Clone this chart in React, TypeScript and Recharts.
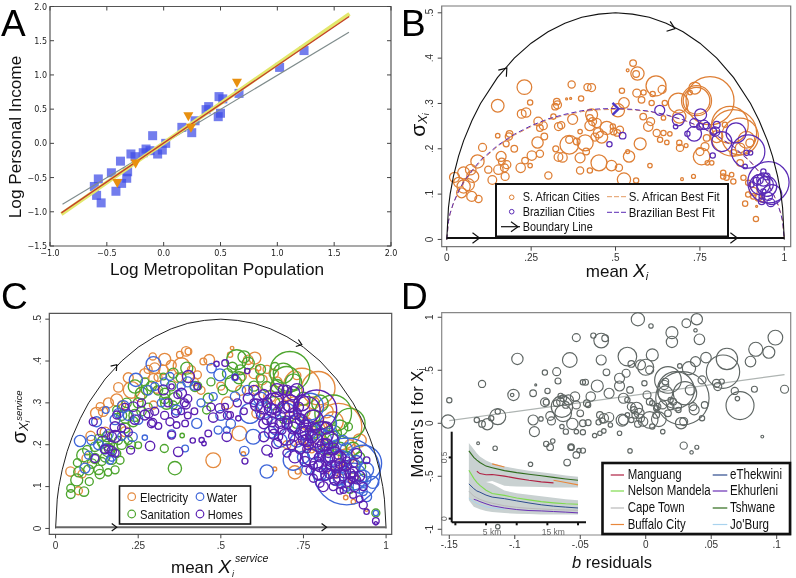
import React from 'react';
import { ScatterChart, ComposedChart, Scatter, Line, Area, XAxis, YAxis, ZAxis, ReferenceArea } from 'recharts';

type Pt = [number, number, number];

// Panel A: log income vs log population
const usCities: Pt[] = [
  [-0.61, -0.63, 0], [-0.575, -0.52, 0], [-0.59, -0.76, 0], [-0.55, -0.87, 0], [-0.46, -0.43, 0], [-0.42, -0.7, 0],
  [-0.37, -0.585, 0], [-0.38, -0.26, 0], [-0.325, -0.51, 0], [-0.317, -0.415, 0], [-0.288, -0.155, 0], [-0.252, -0.195, 0],
  [-0.18, -0.137, 0], [-0.155, -0.083, 0], [-0.12, -0.107, 0], [-0.097, 0.112, 0], [-0.053, -0.156, 0], [-0.012, -0.098, 0],
  [0.018, 0, 0], [0.16, 0.234, 0], [0.247, 0.156, 0], [0.276, 0.33, 0], [0.373, 0.493, 0], [0.396, 0.537, 0],
  [0.487, 0.683, 0], [0.52, 0.65, 0], [0.48, 0.39, 0], [0.5, 0.44, 0], [0.663, 0.73, 0], [1.02, 1.11, 0], [1.235, 1.356, 0],
];
const saMetros: Pt[] = [[-0.408, -0.585, 0], [-0.247, -0.3, 0], [0.217, 0.39, 0], [0.24, 0.22, 0], [0.645, 0.878, 0]];
const usFit: Pt[] = [[-0.89, -0.89, 0], [1.63, 1.624, 0]];
const yellowFit: Pt[] = [[-0.9, -1.034, 0], [1.635, 1.893, 0]];
const redFit: Pt[] = [[-0.9, -1.015, 0], [1.632, 1.854, 0]];
const aXTicks = [-1, -0.5, 0, 0.5, 1, 1.5, 2];
const aYTicks = [-1.5, -1, -0.5, 0, 0.5, 1, 1.5, 2];

// Panel B
const saCities: Pt[] = [
  [0.023, 0.137, 25], [0.035, 0.126, 25], [0.05, 0.147, 36], [0.05, 0.117, 44], [0.044, 0.103, 25], [0.064, 0.121, 36],
  [0.071, 0.154, 28], [0.077, 0.139, 36], [0.074, 0.095, 25], [0.094, 0.089, 13], [0.091, 0.172, 44], [0.106, 0.203, 16],
  [0.123, 0.154, 13], [0.135, 0.131, 19], [0.151, 0.295, 40], [0.151, 0.229, 5], [0.161, 0.183, 25], [0.163, 0.172, 11],
  [0.153, 0.154, 22], [0.171, 0.158, 16], [0.173, 0.139, 16], [0.178, 0.165, 16], [0.176, 0.211, 9], [0.186, 0.233, 11],
  [0.184, 0.227, 13], [0.2, 0.2, 11], [0.219, 0.158, 22], [0.232, 0.174, 11], [0.23, 0.336, 54], [0.222, 0.277, 19],
  [0.235, 0.28, 22], [0.247, 0.302, 7], [0.247, 0.163, 5], [0.252, 0.185, 22], [0.276, 0.189, 13], [0.269, 0.214, 32],
  [0.271, 0.26, 19], [0.286, 0.251, 16], [0.276, 0.246, 11], [0.289, 0.227, 11], [0.301, 0.141, 13], [0.321, 0.293, 11],
  [0.326, 0.304, 11], [0.328, 0.297, 16], [0.316, 0.271, 7], [0.331, 0.249, 16], [0.339, 0.252, 13], [0.323, 0.2, 9],
  [0.331, 0.182, 19], [0.343, 0.181, 22], [0.355, 0.31, 1], [0.367, 0.311, 1], [0.37, 0.342, 13], [0.373, 0.265, 25],
  [0.363, 0.22, 13], [0.363, 0.209, 87], [0.398, 0.311, 7], [0.395, 0.238, 5], [0.385, 0.216, 11], [0.41, 0.213, 64],
  [0.395, 0.18, 25], [0.395, 0.152, 13], [0.413, 0.194, 11], [0.417, 0.336, 13], [0.429, 0.335, 16], [0.424, 0.152, 7],
  [0.424, 0.268, 11], [0.429, 0.275, 36], [0.424, 0.251, 25], [0.432, 0.26, 16], [0.444, 0.257, 22], [0.449, 0.235, 25],
  [0.459, 0.226, 36], [0.439, 0.226, 16], [0.474, 0.246, 44], [0.492, 0.249, 7], [0.494, 0.238, 11], [0.505, 0.235, 11],
  [0.513, 0.242, 13], [0.451, 0.169, 64], [0.488, 0.163, 28], [0.51, 0.158, 13], [0.525, 0.132, 44], [0.561, 0.13, 7],
  [0.54, 0.183, 32], [0.536, 0.194, 4], [0.507, 0.285, 44], [0.525, 0.301, 28], [0.519, 0.328, 7], [0.536, 0.373, 2],
  [0.552, 0.389, 11], [0.561, 0.365, 11], [0.565, 0.366, 44], [0.563, 0.323, 16], [0.583, 0.324, 7], [0.577, 0.308, 11],
  [0.62, 0.339, 100], [0.61, 0.321, 7], [0.638, 0.331, 16], [0.646, 0.301, 7], [0.582, 0.271, 11], [0.607, 0.301, 7],
  [0.597, 0.249, 22], [0.604, 0.26, 16], [0.573, 0.211, 36], [0.602, 0.163, 5], [0.622, 0.235, 13], [0.642, 0.235, 7],
  [0.632, 0.22, 7], [0.652, 0.214, 5], [0.661, 0.233, 5], [0.697, 0.133, 2], [0.731, 0.139, 4], [0.689, 0.213, 7],
  [0.691, 0.202, 13], [0.709, 0.207, 4], [0.642, 0.268, 5], [0.686, 0.301, 100], [0.689, 0.271, 44], [0.735, 0.334, 36],
  [0.721, 0.324, 5], [0.74, 0.306, 178], [0.78, 0.306, 576], [0.74, 0.306, 225], [0.839, 0.253, 336], [0.849, 0.235, 544],
  [0.869, 0.227, 336], [0.755, 0.183, 69], [0.75, 0.194, 16], [0.765, 0.205, 16], [0.772, 0.169, 5], [0.785, 0.169, 5],
  [0.77, 0.224, 11], [0.8, 0.227, 36], [0.824, 0.253, 7], [0.869, 0.202, 22], [0.849, 0.191, 11], [0.898, 0.213, 16],
  [0.888, 0.22, 69], [0.869, 0.169, 11], [0.819, 0.147, 7], [0.819, 0.139, 7], [0.829, 0.136, 7], [0.844, 0.143, 5],
  [0.849, 0.128, 7], [0.879, 0.136, 7], [0.884, 0.079, 7], [0.893, 0.099, 7], [0.908, 0.095, 7], [0.893, 0.125, 7],
  [0.918, 0.073, 1], [0.916, 0.045, 7], [0.933, 0.088, 7], [0.923, 0.092, 11], [0.908, 0.106, 16],
];
const brCities: Pt[] = [
  [0.482, 0.21, 7], [0.521, 0.229, 11], [0.631, 0.285, 25], [0.678, 0.249, 5], [0.686, 0.264, 36], [0.713, 0.233, 7],
  [0.733, 0.233, 54], [0.733, 0.257, 19], [0.752, 0.275, 36], [0.75, 0.249, 11], [0.762, 0.253, 22], [0.77, 0.251, 11],
  [0.79, 0.238, 11], [0.8, 0.253, 11], [0.795, 0.238, 22], [0.788, 0.185, 7], [0.815, 0.216, 100], [0.857, 0.235, 100],
  [0.893, 0.194, 278], [0.888, 0.191, 7], [0.9, 0.191, 5], [0.884, 0.161, 5], [0.953, 0.126, 427], [0.938, 0.132, 44],
  [0.923, 0.132, 25], [0.918, 0.128, 16], [0.938, 0.15, 7], [0.948, 0.117, 100], [0.943, 0.121, 69], [0.938, 0.106, 7],
  [0.953, 0.095, 16], [0.933, 0.095, 7], [0.933, 0.084, 11], [0.96, 0.081, 16], [0.903, 0.121, 7], [0.963, 0.099, 100],
  [0.928, 0.121, 100], [0.948, 0.139, 11],
];
const boundaryX = [0, 0.005, 0.01, 0.02, 0.035, 0.05, 0.075, 0.1, 0.15, 0.2, 0.25, 0.3, 0.35, 0.4, 0.45, 0.5, 0.55, 0.6, 0.65, 0.7, 0.75, 0.8, 0.85, 0.9, 0.925, 0.95, 0.965, 0.98, 0.99, 0.995, 1];
const boundaryY = [0, 0.07, 0.1, 0.14, 0.184, 0.218, 0.263, 0.3, 0.357, 0.4, 0.433, 0.458, 0.477, 0.49, 0.497, 0.5, 0.497, 0.49, 0.477, 0.458, 0.433, 0.4, 0.357, 0.3, 0.263, 0.218, 0.184, 0.14, 0.1, 0.07, 0];
const saFitY = [0, 0.04, 0.057, 0.08, 0.105, 0.125, 0.15, 0.172, 0.205, 0.23, 0.249, 0.264, 0.274, 0.282, 0.286, 0.287, 0.286, 0.282, 0.274, 0.264, 0.249, 0.23, 0.205, 0.172, 0.15, 0.125, 0.105, 0.08, 0.057, 0.04, 0];
const brFitY = [0, 0.04, 0.058, 0.081, 0.107, 0.127, 0.152, 0.175, 0.207, 0.232, 0.251, 0.266, 0.276, 0.284, 0.288, 0.289, 0.287, 0.283, 0.275, 0.264, 0.249, 0.229, 0.204, 0.171, 0.149, 0.124, 0.104, 0.079, 0.056, 0.04, 0];
const floorLine: Pt[] = [[0, 0.003, 0], [1, 0.003, 0]];
const bArrows: Pt[] = [[0.178, 0.378, -50], [0.676, 0.465, 20], [0.097, 0.003, 0.01], [0.861, 0.003, 0.01]];
const bMarker: Pt[] = [[0.5, 0.288, 0]];
const unitTicks = [0, 0.25, 0.5, 0.75, 1];
const unitLabels = ['0', '.25', '.5', '.75', '1'];
const sigmaTicks = [0, 0.1, 0.2, 0.3, 0.4, 0.5];
const sigmaLabels = ['0', '.1', '.2', '.3', '.4', '.5'];

// Panel C
const electricity: Pt[] = [
  [0.045, 0.136, 22], [0.069, 0.09, 16], [0.094, 0.167, 22], [0.106, 0.221, 22], [0.124, 0.275, 36], [0.144, 0.279, 22],
  [0.19, 0.337, 22], [0.185, 0.307, 36], [0.23, 0.331, 69], [0.21, 0.231, 25], [0.255, 0.315, 25], [0.294, 0.411, 13],
  [0.3, 0.383, 28], [0.296, 0.359, 22], [0.31, 0.361, 16], [0.326, 0.379, 22], [0.33, 0.404, 36], [0.306, 0.331, 11],
  [0.296, 0.295, 16], [0.376, 0.415, 11], [0.381, 0.388, 69], [0.395, 0.423, 22], [0.402, 0.423, 11], [0.411, 0.379, 16],
  [0.429, 0.367, 16], [0.447, 0.399, 11], [0.465, 0.403, 28], [0.477, 0.163, 54], [0.528, 0.415, 7], [0.534, 0.431, 3],
  [0.556, 0.227, 54], [0.568, 0.178, 5], [0.583, 0.403, 22], [0.603, 0.407, 36], [0.613, 0.383, 7], [0.608, 0.331, 22],
  [0.663, 0.142, 4], [0.724, 0.134, 44], [0.733, 0.136, 7], [0.745, 0.339, 336], [0.795, 0.335, 278], [0.856, 0.243, 544],
  [0.84, 0.255, 100], [0.775, 0.187, 7], [0.785, 0.211, 100], [0.878, 0.074, 5], [0.901, 0.064, 5], [0.941, 0.044, 2],
  [0.608, 0.275, 22], [0.648, 0.315, 36], [0.678, 0.299, 22], [0.699, 0.315, 16], [0.709, 0.267, 22], [0.739, 0.195, 28],
  [0.84, 0.131, 22], [0.881, 0.171, 69], [0.135, 0.291, 16], [0.2, 0.295, 16], [0.15, 0.23, 25], [0.565, 0.363, 16],
  [0.625, 0.355, 25], [0.66, 0.37, 22], [0.73, 0.365, 16], [0.76, 0.25, 36], [0.82, 0.28, 44], [0.89, 0.2, 25],
  [0.08, 0.13, 16], [0.16, 0.3, 25], [0.22, 0.36, 25], [0.27, 0.37, 25], [0.28, 0.38, 16], [0.35, 0.39, 25],
  [0.37, 0.36, 22], [0.42, 0.35, 16], [0.44, 0.33, 16], [0.5, 0.34, 16], [0.52, 0.3, 36], [0.56, 0.33, 25],
  [0.6, 0.37, 25], [0.64, 0.38, 16], [0.67, 0.35, 25], [0.72, 0.3, 36], [0.75, 0.28, 44], [0.78, 0.3, 36],
  [0.8, 0.24, 54], [0.83, 0.19, 36], [0.87, 0.14, 25], [0.9, 0.12, 25], [0.92, 0.21, 44], [0.77, 0.21, 25], [0.7, 0.2, 16],
];
const sanitation: Pt[] = [
  [0.046, 0.082, 19], [0.046, 0.096, 16], [0.064, 0.116, 36], [0.086, 0.088, 22], [0.066, 0.157, 16], [0.084, 0.175, 44],
  [0.102, 0.112, 16], [0.134, 0.13, 22], [0.159, 0.134, 13], [0.096, 0.187, 22], [0.119, 0.195, 22], [0.119, 0.167, 25],
  [0.144, 0.207, 36], [0.159, 0.187, 44], [0.185, 0.179, 16], [0.195, 0.163, 16], [0.175, 0.195, 16], [0.155, 0.219, 25],
  [0.212, 0.267, 44], [0.185, 0.283, 16], [0.235, 0.255, 25], [0.24, 0.339, 44], [0.26, 0.323, 36], [0.25, 0.199, 11],
  [0.275, 0.331, 25], [0.326, 0.363, 11], [0.336, 0.299, 36], [0.331, 0.323, 25], [0.356, 0.295, 16], [0.361, 0.144, 44],
  [0.383, 0.222, 5], [0.329, 0.191, 16], [0.356, 0.371, 25], [0.397, 0.383, 36], [0.422, 0.339, 25], [0.462, 0.311, 25],
  [0.457, 0.283, 16], [0.506, 0.331, 22], [0.548, 0.403, 100], [0.559, 0.379, 25], [0.583, 0.395, 36], [0.538, 0.347, 69],
  [0.689, 0.371, 100], [0.709, 0.375, 400], [0.699, 0.355, 178], [0.84, 0.275, 336], [0.891, 0.251, 225], [0.8, 0.299, 69],
  [0.84, 0.227, 69], [0.659, 0.299, 44], [0.78, 0.267, 44], [0.969, 0.037, 16], [0.891, 0.092, 11], [0.926, 0.148, 16],
  [0.886, 0.243, 16], [0.84, 0.211, 36], [0.73, 0.251, 25], [0.689, 0.259, 11], [0.639, 0.339, 25], [0.619, 0.359, 16],
  [0.664, 0.387, 16], [0.13, 0.215, 16], [0.17, 0.165, 25], [0.2, 0.27, 25], [0.215, 0.3, 22], [0.25, 0.3, 25],
  [0.27, 0.35, 16], [0.11, 0.155, 22], [0.14, 0.16, 16], [0.19, 0.21, 16], [0.23, 0.2, 16], [0.36, 0.31, 36],
  [0.555, 0.36, 36], [0.535, 0.385, 25], [0.6, 0.34, 25], [0.92, 0.17, 25], [0.86, 0.19, 44],
  [0.07, 0.135, 25], [0.1, 0.14, 25], [0.13, 0.14, 22], [0.15, 0.17, 22], [0.16, 0.2, 36], [0.18, 0.14, 16],
  [0.2, 0.2, 22], [0.21, 0.24, 25], [0.22, 0.21, 16], [0.24, 0.27, 36], [0.26, 0.28, 22], [0.28, 0.29, 16],
  [0.29, 0.34, 25], [0.31, 0.33, 22], [0.33, 0.31, 25], [0.35, 0.34, 22], [0.38, 0.36, 25], [0.43, 0.34, 16],
  [0.47, 0.35, 16], [0.52, 0.37, 25], [0.57, 0.41, 36], [0.62, 0.38, 25], [0.67, 0.34, 44], [0.72, 0.35, 64],
  [0.75, 0.31, 44], [0.78, 0.23, 36], [0.82, 0.19, 36], [0.86, 0.24, 64], [0.88, 0.17, 36], [0.9, 0.19, 44],
  [0.93, 0.12, 16], [0.81, 0.24, 44],
];
const water: Pt[] = [
  [0.074, 0.209, 32], [0.089, 0.144, 25], [0.109, 0.211, 22], [0.124, 0.255, 25], [0.152, 0.283, 11], [0.164, 0.163, 16],
  [0.205, 0.291, 36], [0.243, 0.355, 44], [0.233, 0.219, 22], [0.27, 0.217, 7], [0.296, 0.393, 54], [0.3, 0.339, 16],
  [0.346, 0.363, 16], [0.351, 0.226, 16], [0.366, 0.283, 25], [0.392, 0.191, 11], [0.427, 0.251, 25], [0.472, 0.383, 22],
  [0.497, 0.367, 36], [0.477, 0.315, 16], [0.492, 0.235, 16], [0.518, 0.235, 11], [0.571, 0.185, 22], [0.639, 0.136, 44],
  [0.598, 0.219, 54], [0.588, 0.275, 100], [0.543, 0.315, 22], [0.543, 0.361, 11], [0.629, 0.283, 69], [0.669, 0.243, 69],
  [0.719, 0.163, 100], [0.77, 0.291, 178], [0.881, 0.136, 1111], [0.931, 0.155, 336], [0.901, 0.124, 178], [0.861, 0.163, 100],
  [0.84, 0.171, 69], [0.8, 0.211, 136], [0.969, 0.037, 7], [0.941, 0.076, 25], [0.931, 0.088, 16], [0.92, 0.1, 44],
  [0.76, 0.235, 100], [0.825, 0.251, 69], [0.845, 0.187, 16], [0.8, 0.171, 25], [0.881, 0.1, 22], [0.15, 0.19, 25],
  [0.17, 0.17, 16], [0.19, 0.275, 22], [0.32, 0.3, 16], [0.42, 0.34, 16], [0.65, 0.23, 36], [0.7, 0.28, 64],
  [0.73, 0.21, 44], [0.78, 0.18, 36], [0.82, 0.13, 36], [0.86, 0.12, 44], [0.76, 0.14, 25], [0.91, 0.16, 36],
  [0.1, 0.175, 16], [0.13, 0.2, 25], [0.16, 0.225, 22], [0.18, 0.26, 25], [0.2, 0.22, 16], [0.22, 0.27, 25],
  [0.25, 0.26, 22], [0.28, 0.33, 22], [0.33, 0.35, 16], [0.38, 0.34, 16], [0.4, 0.35, 25], [0.44, 0.3, 16],
  [0.5, 0.27, 25], [0.53, 0.25, 22], [0.58, 0.33, 25], [0.62, 0.31, 44], [0.66, 0.28, 44], [0.68, 0.21, 44],
  [0.72, 0.25, 64], [0.75, 0.17, 36], [0.78, 0.23, 64], [0.83, 0.22, 64], [0.88, 0.19, 36], [0.9, 0.15, 54],
  [0.94, 0.14, 54], [0.93, 0.12, 64], [0.96, 0.11, 36], [0.85, 0.12, 54], [0.8, 0.13, 44], [0.87, 0.21, 25],
];
const homes: Pt[] = [
  [0.114, 0.255, 16], [0.119, 0.167, 16], [0.149, 0.189, 19], [0.17, 0.185, 22], [0.17, 0.219, 22], [0.18, 0.243, 25],
  [0.185, 0.271, 16], [0.21, 0.291, 11], [0.227, 0.187, 16], [0.235, 0.291, 22], [0.27, 0.271, 25], [0.281, 0.275, 22],
  [0.294, 0.253, 16], [0.311, 0.245, 11], [0.286, 0.197, 22], [0.326, 0.331, 25], [0.351, 0.339, 7], [0.346, 0.255, 16],
  [0.351, 0.223, 16], [0.371, 0.183, 22], [0.363, 0.275, 16], [0.381, 0.323, 25], [0.395, 0.295, 16], [0.392, 0.251, 11],
  [0.366, 0.247, 11], [0.402, 0.363, 36], [0.429, 0.339, 11], [0.415, 0.21, 7], [0.442, 0.211, 7], [0.449, 0.203, 5],
  [0.462, 0.227, 11], [0.477, 0.265, 22], [0.497, 0.287, 22], [0.513, 0.291, 11], [0.528, 0.271, 11], [0.518, 0.219, 22],
  [0.513, 0.395, 11], [0.487, 0.393, 7], [0.543, 0.361, 7], [0.573, 0.161, 9], [0.58, 0.376, 7], [0.553, 0.263, 7],
  [0.608, 0.295, 36], [0.583, 0.311, 25], [0.629, 0.291, 54], [0.651, 0.175, 3], [0.639, 0.187, 25], [0.659, 0.299, 100],
  [0.689, 0.331, 25], [0.679, 0.251, 25], [0.699, 0.219, 69], [0.669, 0.203, 25], [0.719, 0.323, 44], [0.709, 0.291, 36],
  [0.699, 0.259, 16], [0.735, 0.251, 100], [0.745, 0.227, 44], [0.724, 0.171, 36], [0.76, 0.283, 178], [0.78, 0.259, 100],
  [0.79, 0.283, 400], [0.805, 0.227, 136], [0.77, 0.171, 69], [0.79, 0.155, 44], [0.82, 0.147, 25], [0.84, 0.171, 100],
  [0.8, 0.108, 16], [0.81, 0.1, 25], [0.84, 0.1, 16], [0.861, 0.124, 44], [0.891, 0.131, 25], [0.871, 0.092, 11],
  [0.901, 0.155, 16], [0.911, 0.179, 25], [0.941, 0.163, 11], [0.931, 0.1, 16], [0.911, 0.116, 16], [0.931, 0.056, 16],
  [0.941, 0.04, 7], [0.969, 0.018, 11], [0.969, 0.012, 3], [0.83, 0.211, 69], [0.85, 0.147, 36], [0.825, 0.179, 16],
  [0.881, 0.163, 11], [0.901, 0.124, 25], [0.8, 0.195, 25], [0.815, 0.124, 16], [0.845, 0.116, 25], [0.71, 0.299, 69],
  [0.63, 0.219, 25], [0.655, 0.255, 25], [0.675, 0.219, 16], [0.725, 0.275, 36], [0.75, 0.211, 25], [0.775, 0.219, 36],
  [0.795, 0.131, 36], [0.83, 0.131, 25], [0.86, 0.155, 25], [0.875, 0.135, 36], [0.905, 0.1, 25], [0.77, 0.139, 16],
  [0.64, 0.3, 25], [0.6, 0.3, 16], [0.69, 0.29, 36], [0.745, 0.3, 64], [0.65, 0.285, 36], [0.67, 0.31, 44],
  [0.62, 0.27, 16], [0.63, 0.25, 25], [0.66, 0.225, 25], [0.685, 0.235, 16], [0.72, 0.24, 36], [0.74, 0.26, 25],
  [0.755, 0.245, 36], [0.765, 0.2, 25], [0.785, 0.24, 25], [0.81, 0.2, 36], [0.82, 0.24, 36], [0.835, 0.15, 25],
  [0.855, 0.175, 16], [0.87, 0.15, 16], [0.885, 0.11, 16], [0.82, 0.165, 36], [0.795, 0.17, 16], [0.78, 0.15, 16],
  [0.76, 0.19, 16], [0.755, 0.16, 25], [0.81, 0.14, 16], [0.85, 0.13, 16], [0.895, 0.115, 11], [0.865, 0.105, 16],
  [0.7, 0.18, 16], [0.715, 0.2, 25], [0.735, 0.29, 25], [0.67, 0.28, 16], [0.18, 0.22, 36], [0.29, 0.25, 16],
  [0.39, 0.3, 16], [0.38, 0.28, 11], [0.4, 0.27, 11], [0.14, 0.23, 22], [0.16, 0.19, 16], [0.18, 0.18, 16],
  [0.2, 0.24, 16], [0.22, 0.23, 16], [0.24, 0.26, 22], [0.26, 0.3, 16], [0.3, 0.28, 16], [0.33, 0.27, 16],
  [0.34, 0.3, 16], [0.37, 0.32, 16], [0.4, 0.31, 16], [0.42, 0.28, 11], [0.47, 0.29, 16], [0.52, 0.27, 16],
  [0.55, 0.3, 16], [0.57, 0.28, 11], [0.6, 0.33, 25], [0.63, 0.32, 25], [0.67, 0.33, 44], [0.7, 0.33, 25],
  [0.73, 0.33, 44], [0.76, 0.23, 44], [0.79, 0.21, 44], [0.82, 0.2, 36], [0.84, 0.19, 36], [0.86, 0.17, 36],
  [0.88, 0.15, 25], [0.9, 0.135, 25], [0.92, 0.125, 25], [0.83, 0.17, 25], [0.8, 0.15, 36], [0.78, 0.12, 16],
  [0.76, 0.21, 36], [0.74, 0.19, 25], [0.72, 0.22, 25], [0.7, 0.25, 25], [0.68, 0.27, 25], [0.66, 0.24, 25],
  [0.64, 0.26, 25], [0.86, 0.09, 11], [0.9, 0.08, 11], [0.92, 0.07, 11],
];
const cArrows: Pt[] = [[0.185, 0.391, -50], [0.745, 0.439, 20], [0.185, 0.003, 0.01], [0.82, 0.003, 0.01]];

// Panel D
const moranPoints: Pt[] = [
  [-0.15, 0.217, 7], [-0.151, 0.016, 44], [-0.125, 0.371, 13], [-0.129, 0.031, 7], [-0.125, -0.006, 11], [-0.121, -0.009, 32],
  [-0.118, 0.047, 7], [-0.113, 0.063, 64], [-0.113, 0.11, 7], [-0.128, -0.189, 2], [-0.115, -0.236, 5], [-0.113, -0.975, 5],
  [-0.101, 0.267, 32], [-0.102, 0.267, 3], [-0.098, 0.607, 32], [-0.086, 0.283, 11], [-0.084, 0.362, 1], [-0.077, 0.478, 7],
  [-0.068, 0.487, 16], [-0.067, 0.399, 9], [-0.086, 0.031, 25], [-0.08, 0.041, 5], [-0.085, -0.079, 25], [-0.088, -0.387, 5],
  [-0.076, -0.195, 7], [-0.071, -0.167, 5], [-0.073, -0.226, 11], [-0.077, 0.198, 19], [-0.076, 0.198, 9], [-0.075, 0.305, 7],
  [-0.073, 0.069, 19], [-0.072, 0.022, 16], [-0.064, 0.157, 114], [-0.063, 0.094, 69], [-0.065, 0.204, 16], [-0.068, 0.189, 11],
  [-0.063, 0.236, 11], [-0.065, 0.258, 7], [-0.061, 0.173, 11], [-0.059, 0.22, 25], [-0.064, -0.031, 5], [-0.056, -0.006, 32],
  [-0.058, 0.597, 54], [-0.053, 0.808, 16], [-0.061, -0.079, 7], [-0.053, -0.079, 5], [-0.048, -0.085, 7], [-0.057, -0.226, 7],
  [-0.057, -0.226, 11], [-0.06, -0.371, 11], [-0.053, -0.299, 11], [-0.051, -0.258, 5], [-0.048, -0.258, 7], [-0.048, 0.387, 7],
  [-0.046, 0.387, 9], [-0.054, 0.252, 22], [-0.053, 0.173, 16], [-0.05, 0.094, 11], [-0.048, 0, 11], [-0.044, 0.006, 9],
  [-0.045, 0.189, 11], [-0.042, 0.252, 22], [-0.044, 0.173, 7], [-0.037, 0.352, 36], [-0.034, 0.597, 25], [-0.034, 0.78, 54],
  [-0.04, 0.827, 7], [-0.031, 0.802, 11], [-0.03, 0.481, 11], [-0.028, 0.283, 25], [-0.035, 0.079, 11], [-0.032, 0.047, 22],
  [-0.028, 0.057, 22], [-0.036, 0.009, 7], [-0.033, 0.025, 7], [-0.027, -0.016, 5], [-0.039, -0.116, 5], [-0.035, -0.094, 5],
  [-0.032, -0.072, 5], [-0.02, -0.094, 5], [-0.02, 0.425, 25], [-0.02, 0.352, 25], [-0.015, 0.472, 16], [-0.014, 0.629, 87],
  [-0.011, 0.56, 11], [-0.006, 0.981, 44], [0.004, 0.918, 5], [-0.012, 0.314, 11], [-0.017, 0.236, 25], [-0.014, 0.22, 7],
  [-0.011, 0.157, 16], [-0.017, 0.031, 25], [-0.011, 0.031, 7], [-0.014, 0.079, 5], [-0.012, -0.261, 5], [-0.009, 0.126, 11],
  [-0.007, 0.142, 36], [-0.005, 0.094, 25], [-0.004, 0.047, 16], [-0.008, 0.079, 11], [-0.006, -0.006, 11], [-0.002, 0.016, 22],
  [0.001, 0.267, 16], [-0.018, 0.03, 36], [0.003, 0.031, 69], [-0.004, 0.551, 25], [0, 0.528, 64], [0.003, 0.503, 16],
  [0.005, 0.645, 36], [-0.001, 0.377, 7], [0.003, 0.204, 11], [0.005, 0.189, 7], [0.008, 0.142, 7], [0.01, 0.038, 54],
  [0.005, -0.031, 7], [0.008, 0.079, 11], [0.013, -0.079, 5], [0.02, 0.855, 36], [0.02, 0.767, 32], [0.031, 0.943, 19],
  [0.039, 0.981, 32], [0.038, 0.877, 3], [0.041, 0.792, 28], [0.026, 0.541, 5], [0.033, 0.519, 44], [0.038, 0.582, 25],
  [0.046, 0.619, 28], [0.062, 0.607, 114], [0.059, 0.487, 278], [0.043, 0.409, 16], [0.08, 0.582, 28], [0.084, 0.698, 49],
  [0.094, 0.67, 36], [0.099, 0.808, 54], [0.054, 0.377, 16], [0.055, 0.346, 16], [0.058, 0.393, 7], [0.068, 0.305, 13],
  [0.07, 0.233, 5], [0.072, 0.167, 196], [0.083, 0.321, 9], [0.106, 0.321, 16], [0.089, -0.126, 2], [0.044, -0.44, 9],
  [0.029, -0.211, 13], [0.035, -0.274, 3], [0.039, -0.226, 4], [0.027, 0, 32], [0.029, 0.016, 16], [0.043, 0.047, 7],
  [0.045, 0.173, 11], [0.036, 0.157, 16], [0.037, 0.126, 25], [0.024, 0.157, 19], [0.021, 0.204, 11], [0.017, 0.409, 178],
  [0.015, 0.393, 11], [0.014, 0.362, 22], [0.015, 0.283, 54], [0.028, 0.236, 711], [0.023, 0.314, 336], [0.03, 0.283, 136],
  [0.034, 0.314, 25], [0.013, 0.173, 16], [0.009, 0.157, 11], [0.017, 0.094, 11], [0.019, 0.157, 11], [0.019, 0.22, 7],
  [0.025, 0.126, 7],
];
const trendLine: Pt[] = [[-0.15, 0.025, 0], [0.106, 0.459, 0]];
const dXTicks = [-0.15, -0.1, -0.05, 0, 0.05, 0.1];
const dXLabels = ['-.15', '-.1', '-.05', '0', '.05', '.1'];
const dYTicks = [-1, -0.5, 0, 0.5, 1];
const dYLabels = ['-1', '-.5', '0', '.5', '1'];

// Panel D inset
const distances = [2.2, 3, 3.5, 4, 5, 6, 8, 10, 12, 14, 16, 18, 20];
const tshwane = [0.553, 0.5, 0.478, 0.458, 0.429, 0.416, 0.392, 0.376, 0.363, 0.35, 0.337, 0.324, 0.313];
const manguang = [null, null, 0.387, 0.368, 0.358, 0.361, 0.347, 0.329, 0.313, 0.3, 0.292, null, null];
const buffalo = [null, null, null, null, null, 0.447, 0.421, null, null, null, 0.313, 0.295, 0.276];
const nelson = [0.395, 0.329, 0.297, 0.271, 0.232, 0.205, 0.19, 0.168, 0.153, 0.139, 0.129, 0.121, 0.118];
const ethekwini = [0.284, 0.245, 0.226, 0.216, 0.192, 0.176, 0.163, 0.145, 0.128, 0.113, 0.102, 0.094, 0.087];
const ekhurleni = [null, 0.158, 0.15, 0.139, 0.121, 0.105, 0.087, 0.074, 0.066, 0.063, 0.058, 0.053, 0.047];
const capeTown = [0.224, 0.184, 0.17, 0.158, 0.139, 0.126, 0.105, 0.092, 0.084, 0.079, 0.074, 0.071, 0.068];
const joburg = [0.166, 0.139, 0.125, 0.113, 0.097, 0.087, 0.076, null, null, null, null, null, null];
const upperHigh = [0.618, 0.566, 0.534, 0.508, 0.474, 0.453, 0.426, 0.408, 0.392, 0.379, 0.366, 0.353, 0.342];
const upperLow = [0.3, 0.3, 0.3, 0.3, 0.3, 0.308, 0.268, 0.263, 0.26, 0.258, 0.255, 0.255, 0.255];
const lowerHigh = [0.3, 0.3, 0.3, 0.3, 0.3, 0.285, 0.229, 0.208, 0.195, 0.182, 0.171, 0.158, 0.15];
const lowerLow = [0.15, 0.097, 0.087, 0.076, 0.063, 0.055, 0.045, 0.039, 0.037, 0.034, 0.034, 0.034, 0.034];
const insetXTicks = [0, 5, 10, 15, 20];
const insetYTicks = [0, 0.5];

const insetRows = distances.map((d, i) => ({
  d,
  tshwane: tshwane[i], manguang: manguang[i], buffalo: buffalo[i], nelson: nelson[i],
  ethekwini: ethekwini[i], ekhurleni: ekhurleni[i], capeTown: capeTown[i], joburg: joburg[i],
  upper: [upperLow[i], upperHigh[i]], lower: [lowerLow[i], lowerHigh[i]],
}));

const ORANGE = '#DE7F35';
const PURPLE = '#5A2BB5';
const SANS = '"Liberation Sans", Arial, sans-serif';
const W = 796;
const H = 578;

const toRows = (pts: Pt[]) => pts.map(([x, y, z]) => ({ x, y, z }));
const toArrows = (pts: Pt[]) => pts.map(([x, y, angle]) => ({ x, y, angle }));
const curve = (ys: number[]) => boundaryX.map((x, i) => ({ x, y: ys[i] }));
const NoDot = () => <g />;

// z is the squared radius in px, the z axis hands Symbols an area
const zRange = (...sets: Pt[][]): [number, number] => [0, Math.max(...sets.flat().map(p => p[2])) * Math.PI];

const Square = ({ cx, cy }: any) => <rect x={cx - 4.5} y={cy - 4.5} width={9} height={9} fill="#3D4BE6" fillOpacity={0.72} />;
const DownTriangle = ({ cx, cy }: any) => <path d={`M${cx - 5},${cy - 4.5} L${cx + 5},${cy - 4.5} L${cx},${cy + 4.5} Z`} fill="#E8900F" />;
const chevron = (len: number) => ({ cx, cy, payload }: any) => (
  <path d={`M${-len},${-len * 0.75} L0,0 L${-len},${len * 0.75}`} fill="none" stroke="#111" strokeWidth={1.2}
    transform={`translate(${cx},${cy}) rotate(${payload.angle})`} />
);
const ArrowB = chevron(7);
const ArrowC = chevron(5);
const MidMarker = ({ cx, cy }: any) => (
  <path d={`M${cx - 3},${cy - 6} L${cx + 3},${cy} L${cx - 3},${cy + 6}`} fill="none" stroke="#4A35C8" strokeWidth={2.4} />
);

const XTickA = ({ x, payload }: any) => (
  <g>
    <line x1={x} x2={x} y1={246} y2={242} stroke="#444" />
    <line x1={x} x2={x} y1={6.5} y2={10.5} stroke="#444" />
    <text x={x} y={255.5} textAnchor="middle" fontSize={8} fontFamily="DejaVu Sans" fill="#222">
      {payload.value.toFixed(1).replace('-', '\u2212')}
    </text>
  </g>
);
const YTickA = ({ y, payload }: any) => (
  <g>
    <line x1={50} x2={54} y1={y} y2={y} stroke="#444" />
    <line x1={391} x2={387} y1={y} y2={y} stroke="#444" />
    <text x={47} y={y + 3} textAnchor="end" fontSize={8} fontFamily="DejaVu Sans" fill="#222">
      {payload.value.toFixed(1).replace('-', '\u2212')}
    </text>
  </g>
);

const bottomTick = (labelY: number, ticks: number[], labels: string[]) => ({ x, payload }: any) => (
  <text x={x} y={labelY} textAnchor="middle" fontSize={10} fontFamily={SANS} fill="#333">
    {labels[ticks.indexOf(payload.value)]}
  </text>
);
const leftTick = (labelX: number, ticks: number[], labels: string[]) => ({ y, payload }: any) => (
  <text transform={`translate(${labelX},${y}) rotate(-90)`} textAnchor="middle" fontSize={10} fontFamily={SANS} fill="#333">
    {labels[ticks.indexOf(payload.value)]}
  </text>
);

const InsetXTick = ({ x, payload }: any) =>
  payload.value === 5 || payload.value === 15 ? (
    <text x={x + 6} y={535} textAnchor="middle" fontSize={8.5} fontFamily={SANS} fill="#666">{payload.value} km</text>
  ) : <g />;
const InsetYTick = ({ y, payload }: any) => (
  <text transform={`translate(447,${y}) rotate(-90)`} textAnchor="middle" fontSize={8.5} fontFamily={SANS} fill="#666">{payload.value}</text>
);

const chartStyle: React.CSSProperties = { position: 'absolute', left: 0, top: 0 };

function box(left: number, top: number, right: number, bottom: number) {
  return { left: left - 10, top, right: W - right, bottom: H - bottom - 10 };
}

// no narrow face is installed, so the width is squeezed to the reference's
const LegendText = ({ x, y, width, children, size = 13.5 }: any) => (
  <text x={x} y={y} fontSize={size} fontFamily={SANS} fill="#111" textLength={width} lengthAdjust="spacingAndGlyphs">{children}</text>
);

export default function App() {
  return (
    <div style={{ position: 'absolute', left: 0, top: 0, width: W, height: H, background: '#fff', overflow: 'hidden', filter: 'blur(0.35px)' }}>
      {/* A */}
      <div style={chartStyle}>
        <ScatterChart width={W} height={H} margin={box(50, 6.5, 391, 246)}>
          <XAxis type="number" dataKey="x" height={10} domain={[-1, 2]} ticks={aXTicks} interval={0} axisLine={false} tickLine={false} tick={XTickA} />
          <YAxis type="number" dataKey="y" width={10} domain={[-1.5, 2]} ticks={aYTicks} interval={0} axisLine={false} tickLine={false} tick={YTickA} />
          <ReferenceArea x1={-1} x2={2} y1={-1.5} y2={2} fill="none" stroke="#555" strokeWidth={1.2} />
          <Scatter data={toRows(usCities)} shape={Square} isAnimationActive={false} />
          <Scatter data={toRows(usFit)} shape={NoDot} line={{ stroke: '#7F8C8C', strokeWidth: 1.2 }} isAnimationActive={false} />
          <Scatter data={toRows(yellowFit)} shape={NoDot} line={{ stroke: '#E3E86C', strokeWidth: 4 }} isAnimationActive={false} />
          <Scatter data={toRows(redFit)} shape={NoDot} line={{ stroke: '#C4402A', strokeWidth: 1.4 }} isAnimationActive={false} />
          <Scatter data={toRows(saMetros)} shape={DownTriangle} isAnimationActive={false} />
        </ScatterChart>
      </div>

      {/* B */}
      <div style={chartStyle}>
        <ScatterChart width={W} height={H} margin={box(441.7, 6, 790.7, 246.7)}>
          <XAxis type="number" dataKey="x" height={10} domain={[-0.015, 1.019]} ticks={unitTicks} interval={0} axisLine={false} tickSize={4} stroke="#444"
            tick={bottomTick(261, unitTicks, unitLabels)} />
          <YAxis type="number" dataKey="y" width={10} domain={[-0.016, 0.515]} ticks={sigmaTicks} interval={0} axisLine={false} tickSize={4} stroke="#444"
            tick={leftTick(433, sigmaTicks, sigmaLabels)} />
          <ZAxis type="number" dataKey="z" range={zRange(saCities, brCities)} />
          <ReferenceArea x1={-0.015} x2={1.019} y1={-0.016} y2={0.515} fill="none" stroke="#777" strokeWidth={1.2} />
          <Scatter data={toRows(saCities)} fill="none" stroke={ORANGE} strokeWidth={1.25} isAnimationActive={false} />
          <Scatter data={curve(saFitY)} shape={NoDot} line={{ stroke: '#E39A63', strokeWidth: 1, strokeDasharray: '5 3' }} isAnimationActive={false} />
          <Scatter data={curve(brFitY)} shape={NoDot} line={{ stroke: PURPLE, strokeWidth: 1, strokeDasharray: '5 3' }} isAnimationActive={false} />
          <Scatter data={toRows(brCities)} fill="none" stroke={PURPLE} strokeWidth={1.25} isAnimationActive={false} />
          <Scatter data={curve(boundaryY)} shape={NoDot} line={{ stroke: '#111', strokeWidth: 1.1 }} isAnimationActive={false} />
          <Scatter data={toRows(floorLine)} shape={NoDot} line={{ stroke: '#111', strokeWidth: 2 }} isAnimationActive={false} />
          <Scatter data={toArrows(bArrows)} shape={ArrowB} isAnimationActive={false} />
          <Scatter data={toRows(bMarker)} shape={MidMarker} isAnimationActive={false} />
        </ScatterChart>
      </div>

      {/* C */}
      <div style={chartStyle}>
        <ScatterChart width={W} height={H} margin={box(49.3, 313.3, 391.7, 534.3)}>
          <XAxis type="number" dataKey="x" height={10} domain={[-0.019, 1.017]} ticks={unitTicks} interval={0} axisLine={false} tickSize={4} stroke="#444"
            tick={bottomTick(549, unitTicks, unitLabels)} />
          <YAxis type="number" dataKey="y" width={10} domain={[-0.014, 0.514]} ticks={sigmaTicks} interval={0} axisLine={false} tickSize={4} stroke="#444"
            tick={leftTick(41, sigmaTicks, sigmaLabels)} />
          <ZAxis type="number" dataKey="z" range={zRange(electricity, sanitation, water, homes)} />
          <ReferenceArea x1={-0.019} x2={1.017} y1={-0.014} y2={0.514} fill="none" stroke="#555" strokeWidth={1.2} />
          <Scatter data={toRows(electricity)} fill="none" stroke="#E48A3F" strokeWidth={1.35} isAnimationActive={false} />
          <Scatter data={toRows(sanitation)} fill="none" stroke="#4DA52E" strokeWidth={1.35} isAnimationActive={false} />
          <Scatter data={toRows(water)} fill="none" stroke="#3E66D9" strokeWidth={1.35} isAnimationActive={false} />
          <Scatter data={toRows(homes)} fill="none" stroke="#5A1FB2" strokeWidth={1.35} isAnimationActive={false} />
          <Scatter data={curve(boundaryY)} shape={NoDot} line={{ stroke: '#222', strokeWidth: 1 }} isAnimationActive={false} />
          <Scatter data={toRows(floorLine)} shape={NoDot} line={{ stroke: '#666', strokeWidth: 2 }} isAnimationActive={false} />
          <Scatter data={toArrows(cArrows)} shape={ArrowC} isAnimationActive={false} />
        </ScatterChart>
      </div>

      {/* D */}
      <div style={chartStyle}>
        <ScatterChart width={W} height={H} margin={box(441.7, 312.7, 790.7, 535)}>
          <XAxis type="number" dataKey="x" height={10} domain={[-0.1558, 0.1107]} ticks={dXTicks} interval={0} axisLine={false} tickSize={4} stroke="#444"
            tick={bottomTick(548, dXTicks, dXLabels)} />
          <YAxis type="number" dataKey="y" width={10} domain={[-1.054, 1.043]} ticks={dYTicks} interval={0} axisLine={false} tickSize={4} stroke="#444"
            tick={leftTick(433, dYTicks, dYLabels)} />
          <ZAxis type="number" dataKey="z" range={zRange(moranPoints)} />
          <ReferenceArea x1={-0.1558} x2={0.1107} y1={-1.054} y2={1.043} fill="none" stroke="#888" strokeWidth={1.2} />
          <Scatter data={toRows(trendLine)} shape={NoDot} line={{ stroke: '#AEB4B2', strokeWidth: 1.2 }} isAnimationActive={false} />
          <Scatter data={toRows(moranPoints)} fill="none" stroke="#5F6664" strokeWidth={1.15} isAnimationActive={false} />
        </ScatterChart>
      </div>

      {/* D inset */}
      <div style={chartStyle}>
        <ComposedChart width={W} height={H} data={insetRows} margin={box(451.7, 431.7, 586, 522.3)}>
          <XAxis type="number" dataKey="d" height={10} domain={[-0.6, 21.3]} ticks={insetXTicks} interval={0} stroke="#111" strokeWidth={2} tickSize={3} tick={InsetXTick} />
          <YAxis type="number" width={10} domain={[-0.03, 0.71]} ticks={insetYTicks} interval={0} stroke="#111" strokeWidth={2} tickSize={3} tick={InsetYTick} />
          <Area dataKey="upper" stroke="none" fill="#C9D1D1" fillOpacity={1} isAnimationActive={false} />
          <Area dataKey="lower" stroke="none" fill="#C9D1D1" fillOpacity={1} isAnimationActive={false} />
          <Line dataKey="capeTown" stroke="#B9B9B9" strokeWidth={1} dot={false} isAnimationActive={false} />
          <Line dataKey="joburg" stroke="#A9D3EE" strokeWidth={1} dot={false} isAnimationActive={false} />
          <Line dataKey="ethekwini" stroke="#2E4C8E" strokeWidth={1} dot={false} isAnimationActive={false} />
          <Line dataKey="ekhurleni" stroke="#6A30B5" strokeWidth={1} dot={false} isAnimationActive={false} />
          <Line dataKey="nelson" stroke="#7FDB4E" strokeWidth={1.1} dot={false} isAnimationActive={false} />
          <Line dataKey="tshwane" stroke="#2F6B1C" strokeWidth={1.1} dot={false} isAnimationActive={false} />
          <Line dataKey="manguang" stroke="#B02244" strokeWidth={1.1} dot={false} isAnimationActive={false} />
          <Line dataKey="buffalo" stroke="#E8873B" strokeWidth={1.1} dot={false} isAnimationActive={false} />
        </ComposedChart>
      </div>

      {/* panel letters, axis titles and legends */}
      <svg width={W} height={H} style={chartStyle}>
        <g fontFamily={SANS} fontSize={37} fill="#000">
          <text x={1} y={36}>A</text>
          <text x={401} y={36}>B</text>
          <text x={1} y={309}>C</text>
          <text x={401} y={309}>D</text>
        </g>

        <text x={217} y={275} textAnchor="middle" fontSize={17.2} fontFamily={SANS} fill="#111">Log Metropolitan Population</text>
        <text transform="translate(21,137) rotate(-90)" textAnchor="middle" fontSize={17.2} fontFamily={SANS} fill="#111">Log Personal Income</text>

        <text x={617} y={277} textAnchor="middle" fontSize={17} fontFamily={SANS} fill="#111">
          mean <tspan fontStyle="italic" fontSize={19}>X</tspan><tspan fontStyle="italic" fontSize={11} dy={3}>i</tspan>
        </text>
        <text transform="translate(425,125) rotate(-90)" textAnchor="middle" fontSize={21} fontFamily={SANS} fill="#111">
          σ<tspan fontStyle="italic" fontSize={13} dy={2}>X</tspan><tspan fontStyle="italic" fontSize={9} dy={2}>i</tspan>
        </text>

        <text x={171} y={573} fontSize={17} fontFamily={SANS} fill="#111">
          mean <tspan fontStyle="italic" fontSize={19}>X</tspan>
        </text>
        <text x={232} y={573} fontSize={9} fontStyle="italic" fontFamily={SANS} fill="#111" dy={4}>i</text>
        <text x={235} y={562} fontSize={10.5} fontStyle="italic" fontFamily={SANS} fill="#111">service</text>
        <text transform="translate(26,417) rotate(-90)" textAnchor="middle" fontSize={20} fontFamily={SANS} fill="#111">
          σ<tspan fontStyle="italic" fontSize={13} dy={2}>X</tspan><tspan fontStyle="italic" fontSize={8} dy={2}>i</tspan><tspan fontStyle="italic" fontSize={9.5} dy={-8}>service</tspan>
        </text>

        <text transform="translate(423,423) rotate(-90)" textAnchor="middle" fontSize={16.5} fontFamily={SANS} fill="#111">
          Moran's I for X<tspan fontSize={10} dy={2}>i</tspan>
        </text>
        <text x={612} y={568} textAnchor="middle" fontSize={16.5} fontFamily={SANS} fill="#111">
          <tspan fontStyle="italic">b</tspan> residuals
        </text>

        {/* legend B */}
        <rect x={496} y={184} width={232} height={52.5} fill="#fff" stroke="#111" strokeWidth={2} />
        <circle cx={511.7} cy={197.3} r={2.3} fill="none" stroke={ORANGE} />
        <LegendText x={522.7} y={200.5} width={77}>S. African Cities</LegendText>
        <line x1={607} x2={626} y1={196.7} y2={196.7} stroke="#E39A63" strokeDasharray="5 2" />
        <LegendText x={628.7} y={200.5} width={91}>S. African Best Fit</LegendText>
        <circle cx={511.7} cy={211.7} r={2.3} fill="none" stroke={PURPLE} />
        <LegendText x={522.7} y={216} width={72}>Brazilian Cities</LegendText>
        <line x1={607} x2={626} y1={212.3} y2={212.3} stroke={PURPLE} strokeDasharray="5 2" />
        <LegendText x={628.7} y={217} width={86}>Brazilian Best Fit</LegendText>
        <line x1={501} x2={520} y1={226.7} y2={226.7} stroke="#111" strokeWidth={1.2} />
        <path d="M511,221.7 L518,226.7 L511,231.7" fill="none" stroke="#111" strokeWidth={1.2} />
        <LegendText x={522.7} y={231} width={70}>Boundary Line</LegendText>

        {/* legend C */}
        <rect x={119.5} y={486} width={131} height={38} fill="#fff" stroke="#111" strokeWidth={1.6} />
        <circle cx={131.7} cy={496.7} r={3.8} fill="none" stroke="#E48A3F" strokeWidth={1.2} />
        <LegendText x={140} y={502} width={48}>Electricity</LegendText>
        <circle cx={200} cy={496.7} r={3.8} fill="none" stroke="#3E66D9" strokeWidth={1.2} />
        <LegendText x={206.7} y={502} width={30.5}>Water</LegendText>
        <circle cx={131.7} cy={514} r={3.8} fill="none" stroke="#4DA52E" strokeWidth={1.2} />
        <LegendText x={140} y={519} width={50}>Sanitation</LegendText>
        <circle cx={200} cy={514} r={3.8} fill="none" stroke="#5A1FB2" strokeWidth={1.2} />
        <LegendText x={207.7} y={519} width={35}>Homes</LegendText>

        {/* legend D */}
        <rect x={602.5} y={463} width={187.5} height={71} fill="#fff" stroke="#111" strokeWidth={2.6} />
        <line x1={610.7} x2={624} y1={475} y2={475} stroke="#B02244" strokeWidth={1.2} />
        <LegendText x={627.7} y={479} size={14} width={54}>Manguang</LegendText>
        <line x1={610.7} x2={624} y1={491} y2={491} stroke="#7FDB4E" strokeWidth={1.2} />
        <LegendText x={627.7} y={495} size={14} width={83}>Nelson Mandela</LegendText>
        <line x1={610.7} x2={624} y1={508} y2={508} stroke="#B9B9B9" strokeWidth={1.2} />
        <LegendText x={627.7} y={512} size={14} width={57}>Cape Town</LegendText>
        <line x1={610.7} x2={624} y1={524.5} y2={524.5} stroke="#E8873B" strokeWidth={1.2} />
        <LegendText x={627.7} y={529} size={14} width={58}>Buffalo City</LegendText>
        <line x1={712.7} x2={727.3} y1={475} y2={475} stroke="#2E4C8E" strokeWidth={1.2} />
        <LegendText x={730} y={479} size={14} width={52}>eThekwini</LegendText>
        <line x1={712.7} x2={727.3} y1={491} y2={491} stroke="#6A30B5" strokeWidth={1.2} />
        <LegendText x={730} y={495} size={14} width={48}>Ekhurleni</LegendText>
        <line x1={712.7} x2={727.3} y1={508} y2={508} stroke="#2F6B1C" strokeWidth={1.2} />
        <LegendText x={730} y={512} size={14} width={45}>Tshwane</LegendText>
        <line x1={712.7} x2={727.3} y1={524.5} y2={524.5} stroke="#A9D3EE" strokeWidth={1.2} />
        <LegendText x={730} y={529} size={14} width={39}>Jo'Burg</LegendText>
      </svg>
    </div>
  );
}
